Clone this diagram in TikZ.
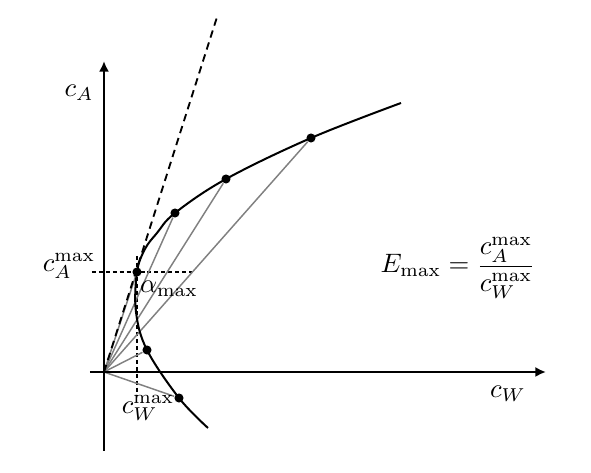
\documentclass[tikz,border=0pt]{standalone}
\usetikzlibrary{arrows.meta}
\begin{document}
\begin{tikzpicture}[x=0.375pt,y=-0.375pt,
  axis/.style={line width=1.1pt,-{Latex[length=4pt,width=3.8pt]}},
  curve/.style={line width=0.75pt},
  ray/.style={gray,line width=0.55pt},
  tangentline/.style={line width=0.7pt,dash pattern=on 2.8pt off 1.9pt},
  guide/.style={line width=0.4pt,dash pattern=on 1.5pt off 1.1pt},
  dot/.style={circle,fill=black,inner sep=0pt,minimum size=3.4pt}]
\useasboundingbox (0,0) rectangle (591,473);
\coordinate (O) at (104,372);
\coordinate (xs) at (90,372);
\coordinate (xe) at (546,372);
\coordinate (ys) at (104,451);
\coordinate (ye) at (104,61);
\coordinate (T) at (218,14);
\coordinate (h1) at (92,272);
\coordinate (h2) at (195,272);
\coordinate (v1) at (137,256);
\coordinate (v2) at (137,396);
% guides
\draw[guide] (h1) -- (h2);
\draw[guide] (v1) -- (v2);
% dots
\node[dot] (p1) at (179,398) {};
\node[dot] (p2) at (147,350) {};
\node[dot] (p3) at (137,272) {};
\node[dot] (p4) at (175,213) {};
\node[dot] (p5) at (226,179) {};
\node[dot] (p6) at (311,138) {};
% rays
\foreach \p in {p1,p2,p3,p4,p5,p6} \draw[ray] (O) -- (\p);
% curve
\draw[curve] plot[smooth,tension=0.6] coordinates {(208,428) (179,398) (147,350) (136,312) (137,272) (145,249) (157,233) (175,213) (226,179) (311,138) (401,103)};
% tangent
\draw[tangentline] (O) -- (T);
% axes
\draw[axis] (xs) -- (xe);
\draw[axis] (ys) -- (ye);
% labels
\node (lcA) at (79,93) {$c_A$};
\node (lcW) at (508,394) {$c_W$};
\node (lcAm) at (69,266) {$c_A^{\max}$};
\node (lcWm) at (148,408) {$c_W^{\max}$};
\node (lal) at (169,289) {$\alpha_{\max}$};
\node (lE) at (458,268) {$\displaystyle E_{\max}=\frac{c_A^{\max}}{c_W^{\max}}$};
\end{tikzpicture}
\end{document}
